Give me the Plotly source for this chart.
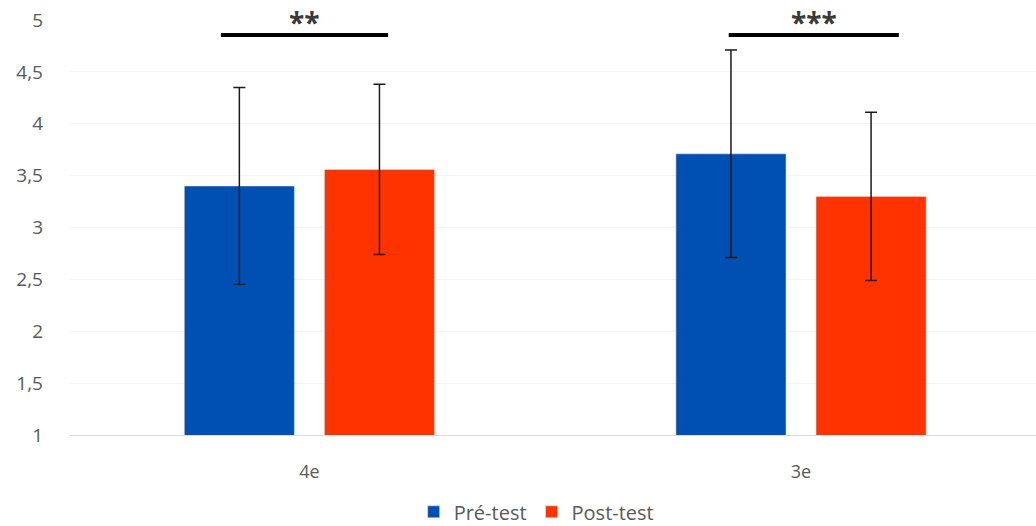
import plotly.graph_objects as go

# Mean scores by grade level, before and after the intervention
levels = ["4e", "3e"]
pre_test = [3.40, 3.71]
post_test = [3.56, 3.30]
pre_sd = [0.95, 1.00]
post_sd = [0.82, 0.81]

# Significance brackets: (start x, end x, height, label)
sig_marks = [(-0.18, 0.16, 4.855, "**"), (0.853, 1.199, 4.855, "***")]

BLUE = "#0050B4"
RED = "#FF3300"
GREY = "#595959"
FONT = "Open Sans"

fig = go.Figure()
fig.add_trace(go.Bar(
    name="Pré-test", x=levels, y=pre_test, marker_color=BLUE,
    error_y=dict(type="data", array=pre_sd, color="#1a1a1a", thickness=1.5, width=6),
))
fig.add_trace(go.Bar(
    name="Post-test", x=levels, y=post_test, marker_color=RED,
    error_y=dict(type="data", array=post_sd, color="#1a1a1a", thickness=1.5, width=6),
))

for x0, x1, y, label in sig_marks:
    fig.add_shape(type="line", xref="x", yref="y", x0=x0, x1=x1, y0=y, y1=y,
                  line=dict(color="black", width=4))
    fig.add_annotation(x=(x0 + x1) / 2, y=1.0, xref="x", yref="paper", text=f"<b>{label}</b>",
                       showarrow=False, yanchor="top", yshift=19,
                       font=dict(family=FONT, size=28, color="#3a3a3a"))

fig.update_layout(
    width=1036, height=526,
    margin=dict(l=70, r=0, t=20, b=91, autoexpand=False),
    paper_bgcolor="white", plot_bgcolor="white",
    separators=", ",
    barmode="group", bargap=0.43, bargroupgap=0.214,
    font=dict(family=FONT, color=GREY, size=19),
    showlegend=True,
    legend=dict(orientation="h", x=0.518, xref="container", xanchor="center",
                y=0.027, yref="container", yanchor="middle",
                font=dict(family=FONT, size=20, color=GREY), itemwidth=30,
                traceorder="normal"),
    xaxis=dict(range=[-0.487, 1.478], showgrid=False, showline=True,
               linecolor="#d9d9d9", linewidth=1, ticks="", ticklabelstandoff=20,
               tickfont=dict(family=FONT, size=18, color=GREY)),
    yaxis=dict(range=[1, 5], dtick=0.5, tick0=1, showgrid=True, gridcolor="#f3f3f3",
               zeroline=False, showline=False, ticks="", ticklabelstandoff=26,
               tickfont=dict(family=FONT, size=19, color=GREY)),
)

fig.write_html("out.html")
